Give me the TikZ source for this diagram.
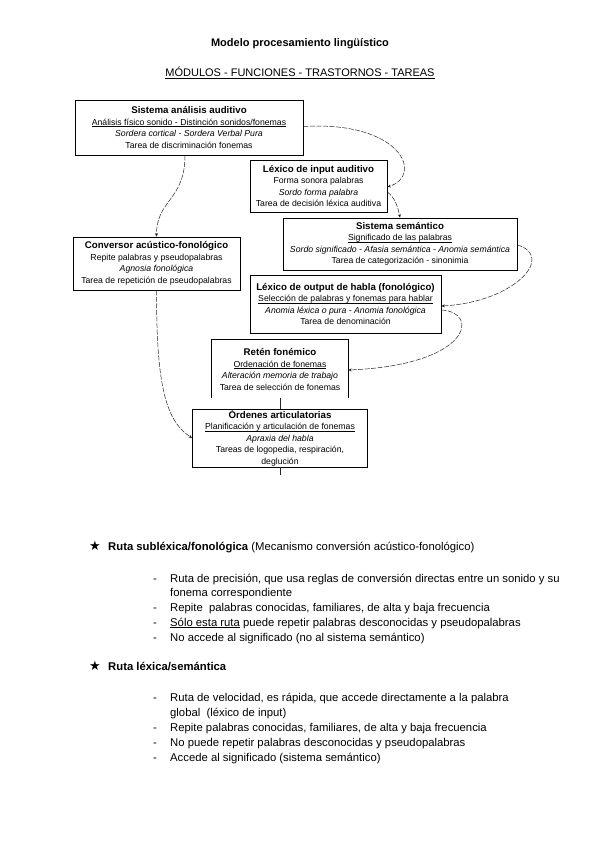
\documentclass[tikz,border=0pt]{standalone}
\usepackage{fontspec}
\setmainfont{Liberation Sans}
\newfontfamily\dejavu{DejaVu Sans}
\usetikzlibrary{arrows.meta}
\newcommand{\bxtitle}[1]{\textbf{\fontsize{9.7}{11.5}\selectfont #1}}
\newcommand{\ulx}[1]{\underline{\smash{#1}}}
\begin{document}
\begin{tikzpicture}[x=1pt,y=-1pt,
  box/.style={draw, line width=0.7pt, inner sep=0pt, align=center, font=\fontsize{8.7}{11.5}\selectfont},
  openbox/.style={inner sep=0pt, align=center, font=\fontsize{8.7}{11.5}\selectfont},
  conn/.style={line width=0.5pt, draw=black!85, dash pattern=on 5pt off 1.5pt, -{Stealth[length=3.5pt,width=3pt]}},
  plain/.style={line width=0.5pt, draw=black!85},
  body/.style={anchor=base west, inner sep=0pt, font=\fontsize{11.3}{13}\selectfont},
  head/.style={anchor=base, inner sep=0pt, font=\fontsize{11}{12}\selectfont},
  starmark/.style={anchor=base, inner sep=0pt, font=\dejavu\fontsize{13}{13}\selectfont},
]
\useasboundingbox[fill=white] (0,0) rectangle (600,848);

% titles
\node[head, font=\fontsize{11}{12}\selectfont\bfseries] (title) at (300,47) {Modelo procesamiento lingüístico};
\node[head] (subtitle) at (300,77) {\ulx{MÓDULOS - FUNCIONES - TRASTORNOS - TAREAS}};

% boxes
\node[box, minimum width=228pt, minimum height=55pt] (saa) at (189,127.5)
  {\bxtitle{Sistema análisis auditivo}\\
   \ulx{Análisis físico sonido - Distinción sonidos/fonemas}\\
   \textit{Sordera cortical - Sordera Verbal Pura}\\
   Tarea de discriminación fonemas};

\node[box, minimum width=137pt, minimum height=52pt] (lia) at (318.5,186)
  {\bxtitle{Léxico de input auditivo}\\
   Forma sonora palabras\\
   \textit{Sordo forma palabra}\\
   Tarea de decisión léxica auditiva};

\node[box, minimum width=234pt, minimum height=52pt] (ss) at (400,244)
  {\bxtitle{Sistema semántico}\\
   \ulx{Significado de las palabras}\\
   \textit{Sordo significado - Afasia semántica - Anomia semántica}\\
   Tarea de categorización - sinonimia};

\node[box, minimum width=167pt, minimum height=53pt] (caf) at (156.5,263.5)
  {\bxtitle{Conversor acústico-fonológico}\\
   Repite palabras y pseudopalabras\\
   \textit{Agnosia fonológica}\\
   Tarea de repetición de pseudopalabras};

\node[box, minimum width=191pt, minimum height=58pt] (loh) at (345.5,304)
  {\bxtitle{Léxico de output de habla (fonológico)}\\
   \ulx{Selección de palabras y fonemas para hablar}\\
   \textit{Anomia léxica o pura - Anomia fonológica}\\
   Tarea de denominación};

\node[openbox, minimum width=136pt, minimum height=58pt, text depth=0pt] (rf) at (280,369)
  {\\[-4pt]\bxtitle{Retén fonémico}\\
   \ulx{Ordenación de fonemas}\\
   \textit{Alteración memoria de trabajo}\\
   Tarea de selección de fonemas};
\draw[line width=0.7pt] (rf.south west) -- (rf.north west) -- (rf.north east) -- (rf.south east);

\node[box, minimum width=175pt, minimum height=58pt] (oa) at (280,438)
  {\bxtitle{Órdenes articulatorias}\\
   \ulx{Planificación y articulación de fonemas}\\
   \textit{Apraxia del habla}\\
   Tareas de logopedia, respiración,\\
   deglución};

\coordinate (oaend) at (280,475);

% connectors
\draw[conn] ([yshift=1pt]saa.east) .. controls +(97,-6) and +(37,-12) .. ([yshift=-1pt]lia.east);
\draw[conn] ([yshift=-6pt]lia.east) .. controls +(8,6) and +(-2,-10) .. (ss.north);
\draw[conn] ([yshift=-1pt]ss.east) .. controls +(38,11) and +(74,-4) .. ([yshift=-2pt]loh.east);
\draw[conn] ([yshift=-6pt]loh.east) .. controls +(39,2) and +(123,-5) .. ([yshift=-1pt]rf.east);
\draw[conn] ([xshift=-4pt]saa.south) .. controls +(0,45) and +(0,-37) .. (caf.north);
\draw[conn] (caf.south) .. controls +(0,90) and +(-28,-18) .. (oa.west);
\draw[plain] (rf.south) -- (oa.north);
\draw[plain] (oa.south) -- (oaend);

% route 1
\node[starmark] (star1) at (95,550) {★};
\node[body] (r1) at (108,550) {\textbf{Ruta subléxica/fonológica} (Mecanismo conversión acústico-fonológico)};
\node[body] (d11) at (153,582) {-};
\node[body] (t11a) at (170,582) {Ruta de precisión, que usa reglas de conversión directas entre un sonido y su};
\node[body] (t11b) at (170,596) {fonema correspondiente};
\node[body] (d12) at (153,611) {-};
\node[body] (t12) at (170,611) {Repite\ \ palabras conocidas, familiares, de alta y baja frecuencia};
\node[body] (d13) at (153,626) {-};
\node[body] (t13) at (170,626) {\ulx{Sólo esta ruta} puede repetir palabras desconocidas y pseudopalabras};
\node[body] (d14) at (153,641) {-};
\node[body] (t14) at (170,641) {No accede al significado (no al sistema semántico)};

% route 2
\node[starmark] (star2) at (95,670) {★};
\node[body] (r2) at (108,670) {\textbf{Ruta léxica/semántica}};
\node[body] (d21) at (153,701) {-};
\node[body] (t21a) at (170,701) {Ruta de velocidad, es rápida, que accede directamente a la palabra};
\node[body] (t21b) at (170,716) {global\ \ (léxico de input)};
\node[body] (d22) at (153,731) {-};
\node[body] (t22) at (170,731) {Repite palabras conocidas, familiares, de alta y baja frecuencia};
\node[body] (d23) at (153,746) {-};
\node[body] (t23) at (170,746) {No puede repetir palabras desconocidas y pseudopalabras};
\node[body] (d24) at (153,761) {-};
\node[body] (t24) at (170,761) {Accede al significado (sistema semántico)};
\end{tikzpicture}
\end{document}
